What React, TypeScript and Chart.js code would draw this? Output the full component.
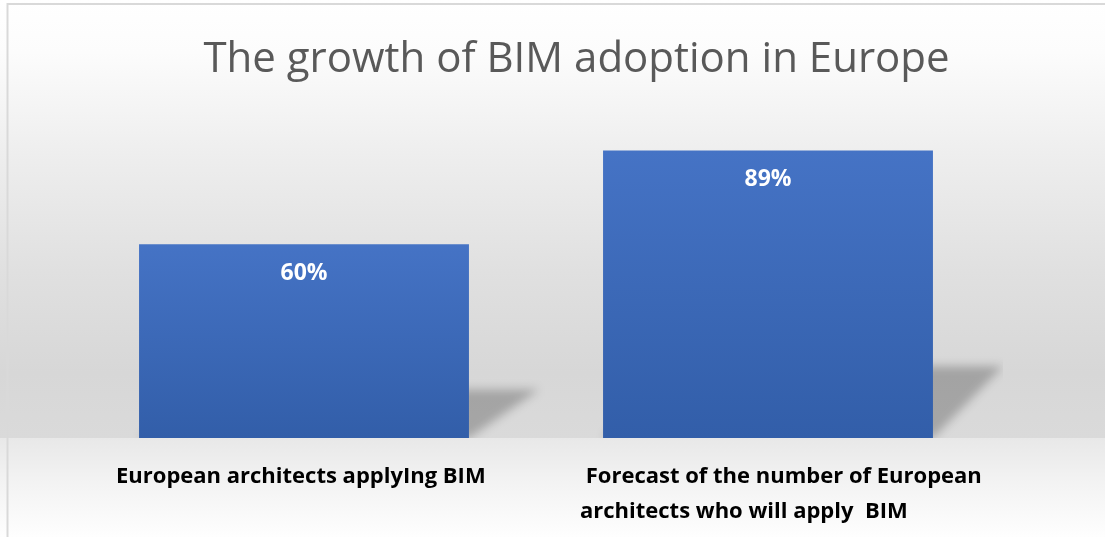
import React, { useEffect, useRef } from 'react';
import { Chart, registerables } from 'chart.js';

Chart.register(...registerables);

const TITLE = 'The growth of BIM adoption in Europe';
const categories: string[][] = [
  ['European architects applyIng BIM'],
  [' Forecast of the number of European', 'architects who will apply  BIM'],
];
const values: number[] = [60, 89];
const valueLabels: string[] = ['60%', '89%'];
const yMin = 0;
const yMax = 100;

const W = 1105;
const H = 537;

const backgroundPlugin = {
  id: 'bgPlugin',
  beforeDraw(chart: any) {
    const { ctx, chartArea } = chart;
    const floor = chartArea.bottom;
    ctx.save();
    const g1 = ctx.createLinearGradient(0, 0, 0, floor);
    g1.addColorStop(0, '#ffffff');
    g1.addColorStop(0.12, '#fcfcfc');
    g1.addColorStop(0.35, '#eeeeee');
    g1.addColorStop(0.62, '#e0e0e0');
    g1.addColorStop(0.85, '#d7d7d7');
    g1.addColorStop(1, '#dadada');
    ctx.fillStyle = g1;
    ctx.fillRect(0, 0, W, floor);
    const g2 = ctx.createLinearGradient(0, floor, 0, H);
    g2.addColorStop(0, '#e8e8e8');
    g2.addColorStop(0.45, '#f3f3f3');
    g2.addColorStop(1, '#fefefe');
    ctx.fillStyle = g2;
    ctx.fillRect(0, floor, W, H - floor);
    // chart border (top and left visible)
    ctx.strokeStyle = '#d9d9d9';
    ctx.lineWidth = 2;
    ctx.beginPath();
    ctx.moveTo(7.5, H);
    ctx.lineTo(7.5, 4);
    ctx.lineTo(W, 4);
    ctx.stroke();
    // title
    ctx.fillStyle = '#595959';
    ctx.font = '400 42px "Open Sans"';
    ctx.textAlign = 'center';
    ctx.textBaseline = 'alphabetic';
    ctx.fillText(TITLE, 576.5, 72);
    ctx.restore();
  },
};

const shadowPlugin = {
  id: 'shadowPlugin',
  beforeDatasetsDraw(chart: any) {
    const { ctx, chartArea } = chart;
    const meta = chart.getDatasetMeta(0);
    ctx.save();
    ctx.beginPath();
    ctx.rect(chartArea.left, 0, chartArea.right + 3 - chartArea.left, chartArea.bottom);
    ctx.clip();
    ctx.filter = 'blur(5px)';
    ctx.fillStyle = 'rgba(0,0,0,0.24)';
    meta.data.forEach((bar: any) => {
      const { x, y, base, width } = bar.getProps(['x', 'y', 'base', 'width'], true);
      const left = x - width / 2;
      const right = x + width / 2;
      const sh = (base - y) * 0.25;
      const sw = 70;
      ctx.beginPath();
      ctx.moveTo(left, base);
      ctx.lineTo(right, base);
      ctx.lineTo(right + sw, base - sh);
      ctx.lineTo(left + sw, base - sh);
      ctx.closePath();
      ctx.fill();
    });
    ctx.restore();
  },
};

const labelPlugin = {
  id: 'labelPlugin',
  afterDatasetsDraw(chart: any) {
    const { ctx } = chart;
    const meta = chart.getDatasetMeta(0);
    ctx.save();
    ctx.fillStyle = '#ffffff';
    ctx.font = 'bold 23px "Open Sans"';
    ctx.textAlign = 'center';
    ctx.textBaseline = 'middle';
    meta.data.forEach((bar: any, i: number) => {
      const { x, y } = bar.getProps(['x', 'y'], true);
      ctx.fillText(valueLabels[i], x, y + 29);
    });
    ctx.restore();
  },
};

export default function App() {
  const canvasRef = useRef<HTMLCanvasElement | null>(null);

  useEffect(() => {
    document.body.style.margin = '0';
    const canvas = canvasRef.current;
    if (!canvas) return;
    const chart = new Chart(canvas, {
      type: 'bar',
      data: {
        labels: categories,
        datasets: [
          {
            data: values,
            backgroundColor: (c: any) => {
              const chartObj = c.chart;
              if (!chartObj.chartArea || c.parsed == null) return '#4472c4';
              const yScale = chartObj.scales.y;
              const top = yScale.getPixelForValue(c.parsed.y);
              const bottom = yScale.getPixelForValue(0);
              const g = chartObj.ctx.createLinearGradient(0, top, 0, bottom);
              g.addColorStop(0, '#4573c5');
              g.addColorStop(1, '#325ea9');
              return g;
            },
            borderWidth: 0,
            categoryPercentage: 0.711,
            barPercentage: 1,
          },
        ],
      },
      options: {
        responsive: false,
        animation: false,
        devicePixelRatio: 1,
        layout: { padding: { left: 72, right: 105, top: 115, bottom: 0 } },
        plugins: {
          legend: { display: false },
          title: { display: false },
          tooltip: { enabled: false },
        },
        scales: {
          x: {
            grid: { display: false, drawTicks: false },
            border: { display: false },
            ticks: {
              color: '#000000',
              font: { family: '"Open Sans"', size: 22, weight: 'bold', lineHeight: 35 / 22 },
              align: 'start',
              labelOffset: -188,
              padding: 21,
              maxRotation: 0,
              minRotation: 0,
              autoSkip: false,
            },
            afterFit: (s: any) => {
              s.height = H - 438;
              s.paddingLeft = 0;
              s.paddingRight = 0;
            },
          },
          y: {
            display: false,
            min: yMin,
            max: yMax,
          },
        },
      },
      plugins: [backgroundPlugin, shadowPlugin, labelPlugin],
    } as any);
    return () => chart.destroy();
  }, []);

  return (
    <div style={{ width: W, height: H }}>
      <canvas ref={canvasRef} width={W} height={H} style={{ width: W, height: H, display: 'block' }} />
    </div>
  );
}
